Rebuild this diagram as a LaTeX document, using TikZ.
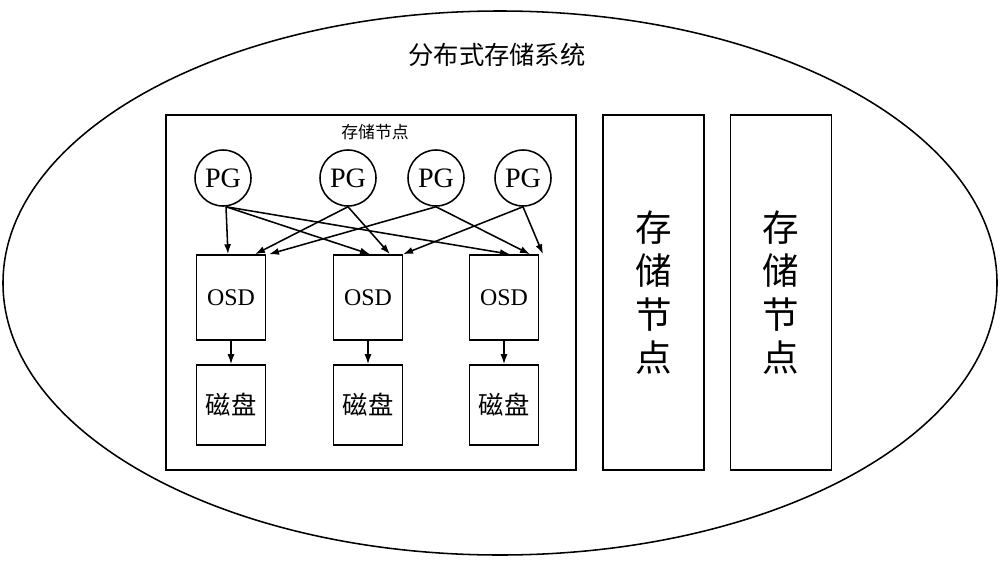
\documentclass[tikz,border=0pt]{standalone}
\usepackage{fontspec}
\setmainfont{Liberation Serif}
\newfontfamily\cjk{Noto Sans CJK SC}
\usetikzlibrary{positioning,shapes.geometric,arrows.meta}
\tikzset{
  pg/.style={circle, draw, minimum size=28mm, inner sep=0pt, font=\fontsize{40}{40}\selectfont},
  osd/.style={rectangle, draw, minimum width=34.5mm, minimum height=42.5mm, font=\fontsize{34}{34}\selectfont},
  disk/.style={rectangle, draw, minimum width=34.5mm, minimum height=40mm, font=\cjk\fontsize{36}{36}\selectfont},
  side/.style={rectangle, draw, minimum width=50.5mm, minimum height=177.5mm, font=\cjk\fontsize{52}{62}\selectfont, align=center},
  link/.style={-{Latex[length=5mm,width=3.5mm]}},
}
\begin{document}
\begin{tikzpicture}[x=0.5mm, y=-0.5mm, line width=2.2pt]
\useasboundingbox (0,0) rectangle (1000,562);
\node[ellipse, draw, minimum width=497mm, minimum height=272mm] (sys) at (500,283) {};
\node[font=\cjk\fontsize{36}{36}\selectfont] (title) at (497,55) {分布式存储系统};
\node[rectangle, draw, minimum width=205mm, minimum height=177.5mm] (node1) at (371,292.5) {};
\node[font=\cjk\fontsize{24}{24}\selectfont] (lbl) at (375,132) {存储节点};
\node[side] (node2) at (653.5,292.5) {存\\储\\节\\点};
\node[side] (node3) at (781,292.5) {存\\储\\节\\点};
% PG
\node[pg] (pg1) at (223,178) {PG};
\node[pg] (pg2) at (348,178) {PG};
\node[pg] (pg3) at (436,178) {PG};
\node[pg] (pg4) at (523,178) {PG};
% OSD and disks
\foreach \i/\x in {1/231,2/368,3/504}{
  \node[osd] (osd\i) at (\x,297.5) {OSD};
  \node[disk] (disk\i) at (\x,405) {磁盘};
  \draw[link] (osd\i) -- (disk\i);
}
\draw[link] ([xshift=1.5mm]pg1.south) -- ([xshift=-1.5mm]osd1.north);
\draw[link] ([xshift=1.5mm]pg1.south) -- ([xshift=1mm]osd2.north);
\draw[link] ([xshift=1.5mm]pg1.south) -- ([xshift=3mm]osd3.north);
\draw[link] (pg2.south) -- ([xshift=12mm]osd1.north);
\draw[link] (pg2.south) -- ([xshift=11mm]osd2.north);
\draw[link] (pg3.south) -- ([xshift=19mm]osd1.north);
\draw[link] (pg3.south) -- ([xshift=13mm]osd3.north);
\draw[link] (pg4.south) -- ([xshift=17.5mm]osd2.north);
\draw[link] (pg4.south) -- ([xshift=19.5mm]osd3.north);
\end{tikzpicture}
\end{document}
